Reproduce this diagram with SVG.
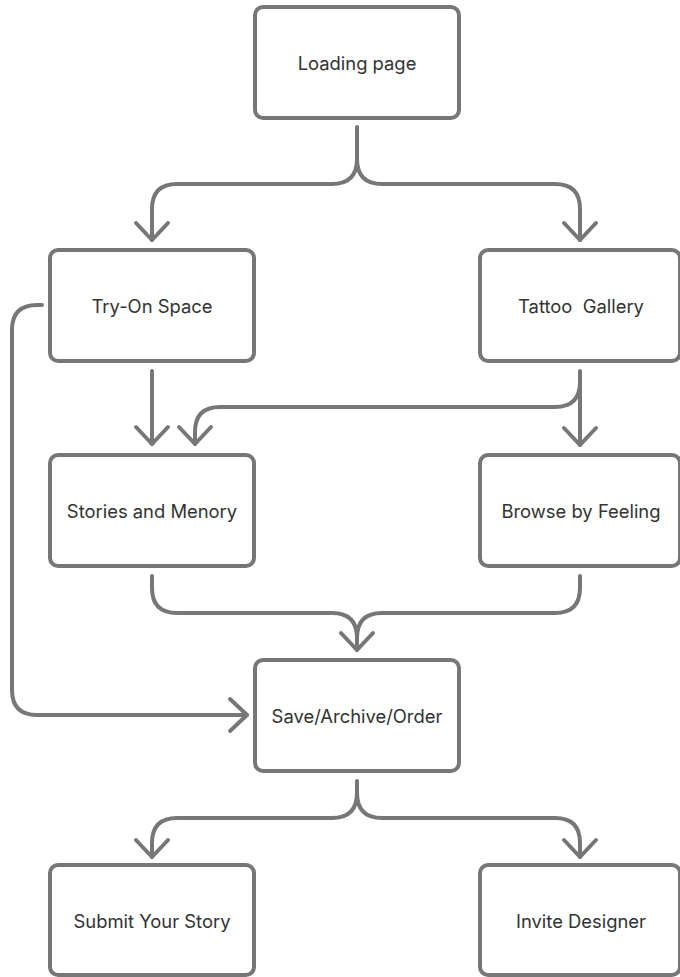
<svg xmlns="http://www.w3.org/2000/svg" width="680" height="977" viewBox="0 0 680 977">
<style>
.box{fill:#fff;stroke:#777;stroke-width:4}
.lbl{font-family:Inter,"Liberation Sans",sans-serif;font-size:18.4px;fill:#333;text-anchor:middle;dominant-baseline:central}
.con{fill:none;stroke:#777;stroke-width:4;stroke-linecap:round;stroke-linejoin:round}
</style>
<defs>
<marker id="ah" markerUnits="userSpaceOnUse" markerWidth="40" markerHeight="40" refX="0" refY="0" orient="auto" overflow="visible" viewBox="-20 -20 40 40">
<path d="M-17,-16 L0,0 L-17,16" fill="none" stroke="#777" stroke-width="4" stroke-linecap="round" stroke-linejoin="round"/>
</marker>
</defs>
<rect width="680" height="977" fill="#fff"/>
<g id="connectors">
<path class="con" d="M357,127 V159 Q357,184 332,184 H177 Q152,184 152,209 V240" marker-end="url(#ah)"/>
<path class="con" d="M357,159 Q357,184 382,184 H555 Q580,184 580,209 V240" marker-end="url(#ah)"/>
<path class="con" d="M152,371 V444" marker-end="url(#ah)"/>
<path class="con" d="M580,371 V445" marker-end="url(#ah)"/>
<path class="con" d="M580,382 Q580,407 555,407 H220 Q195,407 195,432 V444" marker-end="url(#ah)"/>
<path class="con" d="M42,305 H37 Q12,305 12,330 V690 Q12,715 37,715 H247" marker-end="url(#ah)"/>
<path class="con" d="M152,576 V588 Q152,613 177,613 H332 Q357,613 357,638 V650" marker-end="url(#ah)"/>
<path class="con" d="M580,576 V588 Q580,613 555,613 H382 Q357,613 357,638"/>
<path class="con" d="M357,781 V793 Q357,818 332,818 H177 Q152,818 152,843 V857" marker-end="url(#ah)"/>
<path class="con" d="M357,793 Q357,818 382,818 H555 Q580,818 580,843 V857" marker-end="url(#ah)"/>
</g>
<g id="loading"><rect class="box" x="255" y="7" width="204" height="111" rx="8"/><text class="lbl" x="357" y="63">Loading page</text></g>
<g id="tryon"><rect class="box" x="50" y="250" width="204" height="111" rx="8"/><text class="lbl" x="152" y="306">Try-On Space</text></g>
<g id="gallery"><rect class="box" x="480" y="250" width="200" height="111" rx="8"/><text class="lbl" x="581" y="306" xml:space="preserve">Tattoo  Gallery</text></g>
<g id="stories"><rect class="box" x="50" y="455" width="204" height="111" rx="8"/><text class="lbl" x="152" y="511">Stories and Menory</text></g>
<g id="browse"><rect class="box" x="480" y="455" width="200" height="111" rx="8"/><text class="lbl" x="581" y="511">Browse by Feeling</text></g>
<g id="save"><rect class="box" x="255" y="660" width="204" height="111" rx="8"/><text class="lbl" x="357" y="716">Save/Archive/Order</text></g>
<g id="submit"><rect class="box" x="50" y="865" width="204" height="110" rx="8"/><text class="lbl" x="152" y="921">Submit Your Story</text></g>
<g id="invite"><rect class="box" x="480" y="865" width="200" height="110" rx="8"/><text class="lbl" x="581" y="921">Invite Designer</text></g>
</svg>
